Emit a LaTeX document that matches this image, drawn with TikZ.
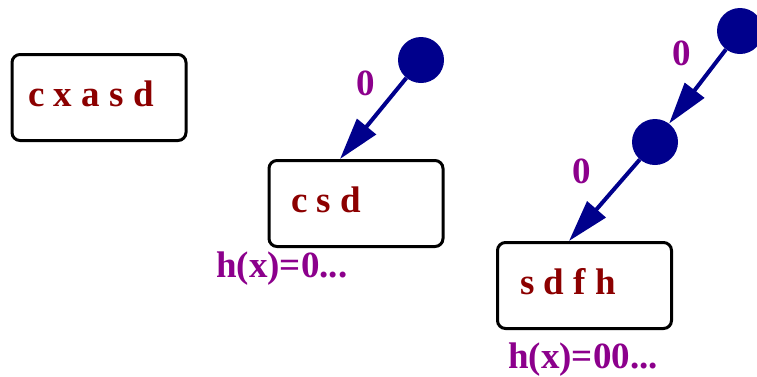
\documentclass[tikz,border=0pt]{standalone}
\usepackage{fontspec}
\setmainfont{Liberation Serif}
\usetikzlibrary{arrows.meta}
\definecolor{boxred}{RGB}{140,0,0}
\definecolor{lblpurple}{RGB}{140,0,140}
\definecolor{nodeblue}{RGB}{0,0,140}
\tikzset{
  keybox/.style={draw=black, line width=3pt, rounded corners=8pt, minimum width=174pt, minimum height=86pt, inner sep=0pt},
  keytext/.style={text=boxred, font=\fontsize{37}{40}\selectfont\bfseries, inner sep=0pt, anchor=base west},
  edgelbl/.style={text=lblpurple, font=\fontsize{37}{40}\selectfont\bfseries, inner sep=0pt},
  trienode/.style={circle, fill=nodeblue, minimum size=46pt, inner sep=0pt},
  triearrow/.style={draw=nodeblue, line width=4pt, -{Triangle[length=42pt,width=24pt]}}
}
\begin{document}
\begin{tikzpicture}[x=1pt,y=-1pt]
\useasboundingbox (0,0) rectangle (757,376);
% boxes
\node[keybox] (b1) at (99,97.5) {};
\node[keybox] (b2) at (356,203.5) {};
\node[keybox] (b3) at (584.5,285.5) {};
\node[keytext] (t1) at (28,106.5) {c x a s d};
\node[keytext] (t2) at (291,212.5) {c s d};
\node[keytext] (t3) at (520,294) {s d f h};
% trie nodes
\node[trienode] (c1) at (421,60) {};
\node[trienode] (c2) at (740,31) {};
\node[trienode] (c3) at (655,142) {};
% arrows
\draw[triearrow] (c1) -- ([xshift=-16pt]b2.north);
\draw[triearrow] (c2) -- (c3);
\draw[triearrow] (c3) -- ([xshift=-15.5pt]b3.north);
% labels
\node[edgelbl, anchor=base] (l1) at (366,95) {0};
\node[edgelbl, anchor=base] (l2) at (682,65.5) {0};
\node[edgelbl, anchor=base] (l3) at (582,183) {0};
\node[edgelbl, anchor=base west] (h2) at (216,277.5) {h(x)=0...};
\node[edgelbl, anchor=base west] (h3) at (508,368.5) {h(x)=00...};
\end{tikzpicture}
\end{document}
